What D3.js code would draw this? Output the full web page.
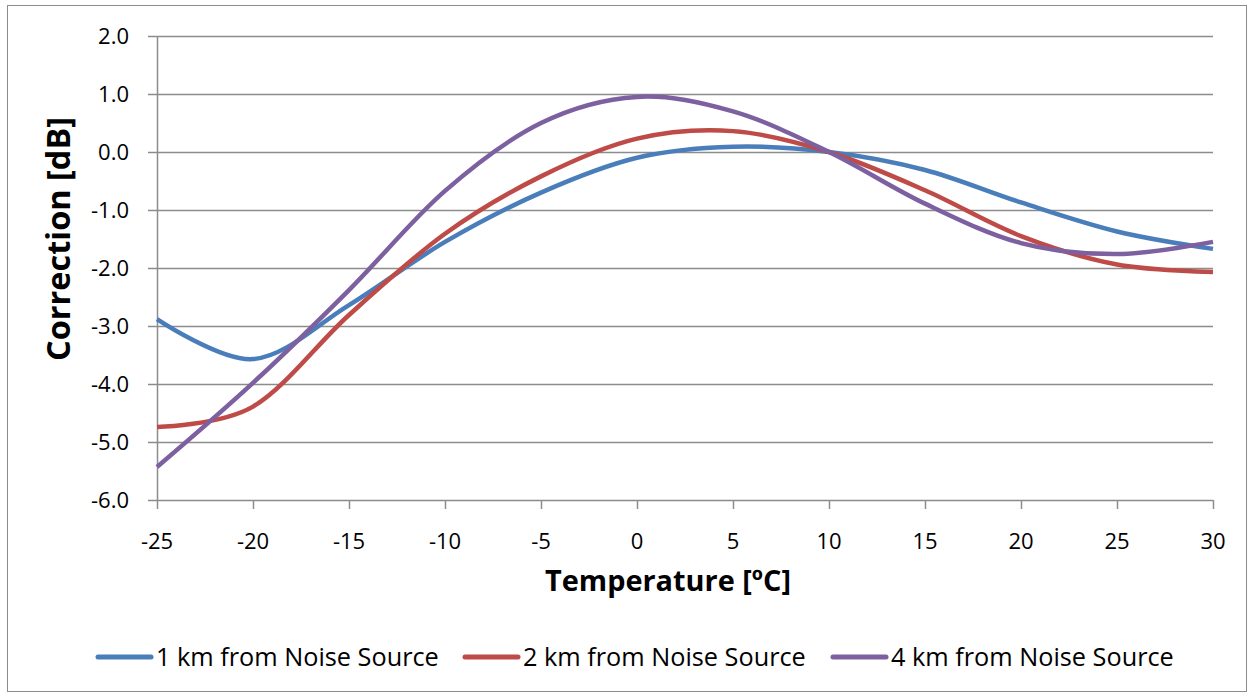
<!DOCTYPE html>
<html><head><meta charset="utf-8">
<script src="https://cdn.jsdelivr.net/npm/d3@7"></script>
<style>body{margin:0;background:#fff}svg{display:block}text{font-family:"Open Sans","Noto Sans",sans-serif}</style>
</head><body>
<script>
const temps = [-25,-20,-15,-10,-5,0,5,10,15,20,25,30];
const km1 = [-2.88,-3.57,-2.64,-1.55,-0.70,-0.10,0.09,0.0,-0.31,-0.87,-1.37,-1.67];
const km2 = [-4.74,-4.39,-2.81,-1.41,-0.42,0.23,0.36,0.0,-0.66,-1.45,-1.94,-2.07];
const km4 = [-5.43,-3.98,-2.38,-0.67,0.50,0.95,0.70,0.0,-0.89,-1.57,-1.76,-1.55];
const seriesNames = ["1 km from Noise Source","2 km from Noise Source","4 km from Noise Source"];
const colors = ["#4a7ebb","#be4b48","#7d60a0"];
const yTicks = [2,1,0,-1,-2,-3,-4,-5,-6];
const xTicks = [-25,-20,-15,-10,-5,0,5,10,15,20,25,30];

const W=1255,H=696;
const svg=d3.select("body").append("svg").attr("width",W).attr("height",H);
svg.append("rect").attr("x",7.5).attr("y",5.5).attr("width",1239).attr("height",686).attr("fill","#fff").attr("stroke","#8c8c8c").attr("stroke-width",1);

const x=d3.scaleLinear().domain([-25,30]).range([157,1213]);
const y=d3.scaleLinear().domain([-6,2]).range([500,36]);
const fmtY=d=>d3.format(".1f")(d).replace("\u2212","-");

svg.append("g").selectAll("line").data(yTicks).join("line")
  .attr("x1",148).attr("x2",1213).attr("y1",d=>Math.round(y(d))+0.5).attr("y2",d=>Math.round(y(d))+0.5)
  .attr("stroke","#8c8c8c").attr("stroke-width",1.5);
svg.append("line").attr("x1",157.5).attr("x2",157.5).attr("y1",36).attr("y2",500).attr("stroke","#8c8c8c").attr("stroke-width",1.5);
svg.append("g").selectAll("line").data(xTicks).join("line")
  .attr("x1",d=>Math.round(x(d))+0.5).attr("x2",d=>Math.round(x(d))+0.5).attr("y1",500).attr("y2",509)
  .attr("stroke","#8c8c8c").attr("stroke-width",1.5);
svg.append("g").selectAll("text").data(yTicks).join("text")
  .attr("x",129).attr("y",d=>y(d)+8).attr("text-anchor","end").attr("font-size",22).attr("fill","#000")
  .text(fmtY);
svg.append("g").selectAll("text").data(xTicks).join("text")
  .attr("x",d=>x(d)).attr("y",549).attr("text-anchor","middle").attr("font-size",22).attr("fill","#000")
  .text(d=>String(d).replace("\u2212","-"));

function fitSize(t,target){
  const w=t.node().getComputedTextLength();
  t.attr("font-size",20*target/w);
}
const xt=svg.append("text").attr("x",668).attr("y",591).attr("text-anchor","middle").attr("font-size",20).attr("font-weight","bold").text("Temperature [ºC]");
fitSize(xt,246);
const yt=svg.append("text").attr("transform","translate(70,239) rotate(-90)").attr("text-anchor","middle").attr("font-size",20).attr("font-weight","bold").text("Correction [dB]");
fitSize(yt,244);

const line=d3.line().x(d=>x(d[0])).y(d=>y(d[1])).curve(d3.curveCardinal.tension(0));
[km1,km2,km4].forEach((s,i)=>{
  svg.append("path").datum(temps.map((t,j)=>[t,s[j]])).attr("d",line)
    .attr("fill","none").attr("stroke",colors[i]).attr("stroke-width",4.5).attr("stroke-linecap","butt");
});

const legX=[98,465,833];
seriesNames.forEach((n,i)=>{
  svg.append("line").attr("x1",legX[i]).attr("x2",legX[i]+53).attr("y1",657).attr("y2",657)
    .attr("stroke",colors[i]).attr("stroke-width",5).attr("stroke-linecap","round");
  const t=svg.append("text").attr("x",legX[i]+58).attr("y",666).attr("font-size",20).attr("fill","#000").text(n);
  t.attr("font-size",20*283/t.node().getComputedTextLength());
});
</script>
</body></html>
